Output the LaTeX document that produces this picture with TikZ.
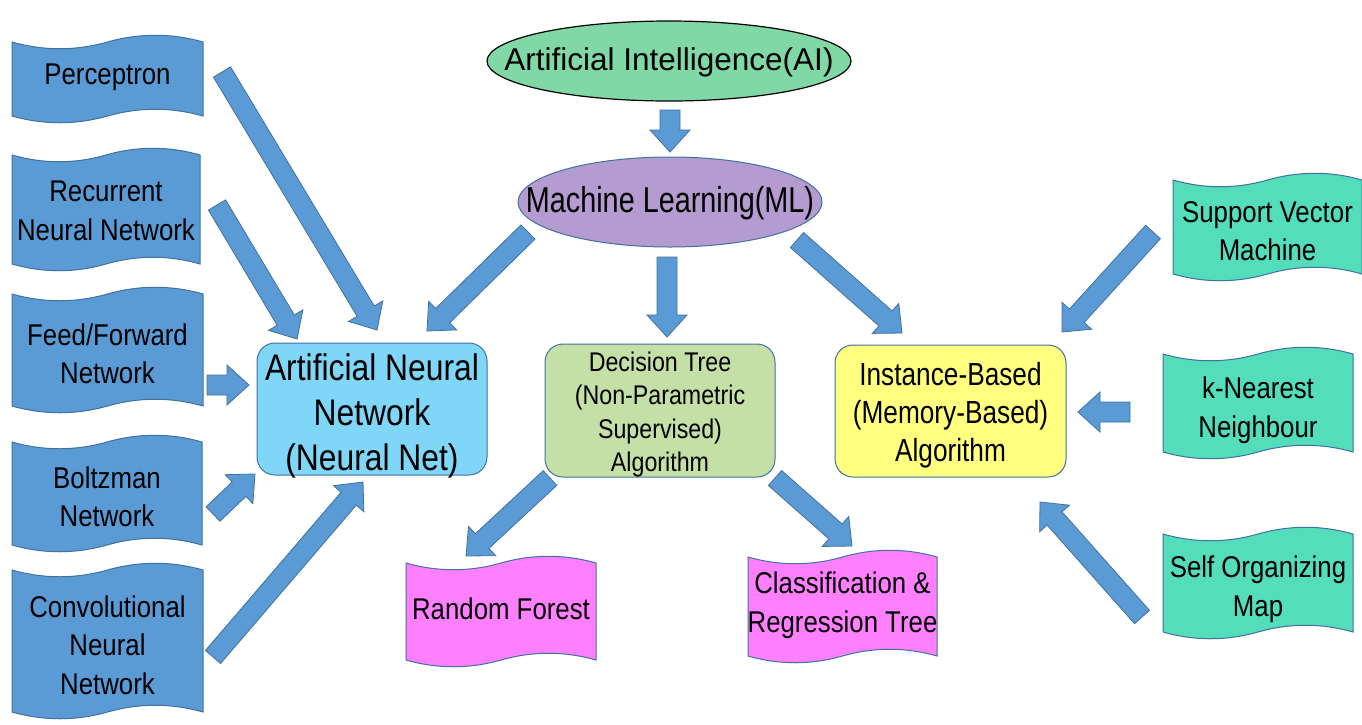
\documentclass[tikz,border=0pt]{standalone}
\usepackage{fontspec}
\setmainfont{Liberation Sans}
\newfontfamily\fN[FakeStretch=0.86]{Liberation Sans}
\newfontfamily\fML[FakeStretch=0.80]{Liberation Sans}
\newfontfamily\fIB[FakeStretch=0.82]{Liberation Sans}
\usetikzlibrary{calc,shapes.geometric}
\definecolor{tblue}{RGB}{91,155,213}
\definecolor{edgec}{RGB}{65,113,156}
\definecolor{tteal}{RGB}{84,221,186}
\definecolor{tpink}{RGB}{255,128,255}
\definecolor{annc}{RGB}{128,214,246}
\definecolor{dtc}{RGB}{197,224,166}
\definecolor{ibc}{RGB}{255,255,128}
\definecolor{aic}{RGB}{128,216,166}
\definecolor{mlc}{RGB}{180,155,208}
\tikzset{
  tapefill/.style={fill=#1, draw=edgec, line width=1pt},
  tapetext/.style={font=\fN\fontsize{30}{38.5}\selectfont, align=center, inner sep=0pt, text=black},
  barrowstyle/.style={fill=tblue, draw=edgec, line width=0.8pt, line join=miter},
  roundbox/.style={draw=edgec, line width=1pt, rounded corners=18pt, fill=#1, inner sep=0pt},
  lbl/.style={align=center, inner sep=0pt, text=black},
}
\newcommand\tapebox[8]{%
  \pgfmathsetmacro\tL{(#3-#2)/2}%
  \pgfmathsetmacro\tm{#2+\tL}%
  \pgfmathsetmacro\ta{9}%
  \path[tapefill=#6] (#2,#4) .. controls ({#2+\tL/3},{#4+\ta}) and ({#2+2*\tL/3},{#4+\ta}) .. (\tm,#4)
     .. controls ({\tm+\tL/3},{#4-\ta}) and ({\tm+2*\tL/3},{#4-\ta}) .. (#3,#4)
     -- (#3,#5) .. controls ({\tm+2*\tL/3},{#5-\ta}) and ({\tm+\tL/3},{#5-\ta}) .. (\tm,#5)
     .. controls ({#2+2*\tL/3},{#5+\ta}) and ({#2+\tL/3},{#5+\ta}) .. (#2,#5) -- cycle;
  \node[tapetext] (#1) at (\tm,#7) {#8};
}
\newcommand\blockarrow[2]{%
  \coordinate (bh) at ($(#2)!22pt!(#1)$);
  \path[barrowstyle] ($(#1)!10pt!90:(#2)$) -- ($(bh)!10pt!90:(#2)$) -- ($(bh)!20pt!90:(#2)$)
     -- (#2) -- ($(bh)!20pt!-90:(#2)$) -- ($(bh)!10pt!-90:(#2)$) -- ($(#1)!10pt!-90:(#2)$) -- cycle;
}
\begin{document}
\begin{tikzpicture}[x=1pt,y=-1pt]
\useasboundingbox (0,0) rectangle (1362,724);
\fill[white] (0,0) rectangle (1362,724);

% left tapes
\tapebox{perc}{12}{203}{42}{116}{tblue}{77}{Perceptron}
\tapebox{rnn}{12}{200}{155}{264}{tblue}{211}{Recurrent\\Neural Network}
\tapebox{ffn}{12}{203}{294}{406}{tblue}{354}{Feed/Forward\\Network}
\tapebox{boltz}{12}{202}{442}{545}{tblue}{497}{Boltzman\\Network}
\tapebox{cnn}{12}{203}{570}{712}{tblue}{645}{Convolutional\\Neural\\Network}

% right tapes
\tapebox{svm}{1173}{1362}{180}{274}{tteal}{231}{Support Vector\\Machine}
\tapebox{knn}{1163}{1353}{354}{452}{tteal}{410}{k-Nearest\\Neighbour}
\tapebox{som}{1163}{1353}{534}{632}{tteal}{589}{Self Organizing\\Map}

% bottom tapes
\tapebox{rf}{406}{596}{563}{660}{tpink}{609}{Random Forest}
\tapebox{cart}{748}{937}{557}{656}{tpink}{605}{Classification \&\\Regression Tree}

% ellipses
\node[ellipse, draw=black, line width=1.2pt, fill=aic, minimum width=364pt, minimum height=80pt, inner sep=0pt,
      label={[lbl, yshift=-1pt, font=\fontsize{31.5}{38}\selectfont]center:Artificial Intelligence(AI)}] (ai) at (669,61) {};
\node[ellipse, draw=edgec, line width=1pt, fill=mlc, minimum width=304pt, minimum height=90pt, inner sep=0pt,
      label={[lbl, yshift=-1pt, font=\fML\fontsize{36}{42}\selectfont]center:Machine Learning(ML)}] (ml) at (670,202) {};

% rounded boxes
\node[roundbox=annc, minimum width=230pt, minimum height=132pt,
      label={[lbl, yshift=-7pt, font=\fN\fontsize{37}{45}\selectfont]center:{Artificial Neural\\Network\\(Neural Net)}}] (ann) at (372,409) {};
\node[roundbox=dtc, minimum width=230pt, minimum height=133pt,
      label={[lbl, yshift=-4pt, font=\fN\fontsize{27}{33.5}\selectfont]center:{Decision Tree\\(Non-Parametric\\Supervised)\\Algorithm}}] (dt) at (660,410.5) {};
\node[roundbox=ibc, minimum width=231pt, minimum height=132pt,
      label={[lbl, yshift=-4pt, font=\fIB\fontsize{32}{38}\selectfont]center:{Instance-Based\\(Memory-Based)\\Algorithm}}] (ib) at (950.5,411) {};

% arrow end points
\coordinate (a1s) at (222,72);   \coordinate (a1e) at (377,330);
\coordinate (a2s) at (217,205);  \coordinate (a2e) at (297,339);
\coordinate (a3s) at (207,385);  \coordinate (a3e) at (249,385);
\coordinate (a4s) at (213,514);  \coordinate (a4e) at (255,474);
\coordinate (a5s) at (213,657);  \coordinate (a5e) at (363,482);
\coordinate (a6s) at (528,232);  \coordinate (a6e) at (427,331);
\coordinate (a7s) at (670,110);  \coordinate (a7e) at (670,152);
\coordinate (a8s) at (667,257);  \coordinate (a8e) at (667,337);
\coordinate (a9s) at (797,240);  \coordinate (a9e) at (902,333);
\coordinate (a10s) at (550,478); \coordinate (a10e) at (466,556);
\coordinate (a11s) at (775,478); \coordinate (a11e) at (852,546);
\coordinate (a12s) at (1153,232); \coordinate (a12e) at (1062,332);
\coordinate (a13s) at (1130,412); \coordinate (a13e) at (1078,412);
\coordinate (a14s) at (1142,617); \coordinate (a14e) at (1040,502);

\blockarrow{a1s}{a1e}
\blockarrow{a2s}{a2e}
\blockarrow{a3s}{a3e}
\blockarrow{a4s}{a4e}
\blockarrow{a5s}{a5e}
\blockarrow{a6s}{a6e}
\blockarrow{a7s}{a7e}
\blockarrow{a8s}{a8e}
\blockarrow{a9s}{a9e}
\blockarrow{a10s}{a10e}
\blockarrow{a11s}{a11e}
\blockarrow{a12s}{a12e}
\blockarrow{a13s}{a13e}
\blockarrow{a14s}{a14e}
\end{tikzpicture}
\end{document}
